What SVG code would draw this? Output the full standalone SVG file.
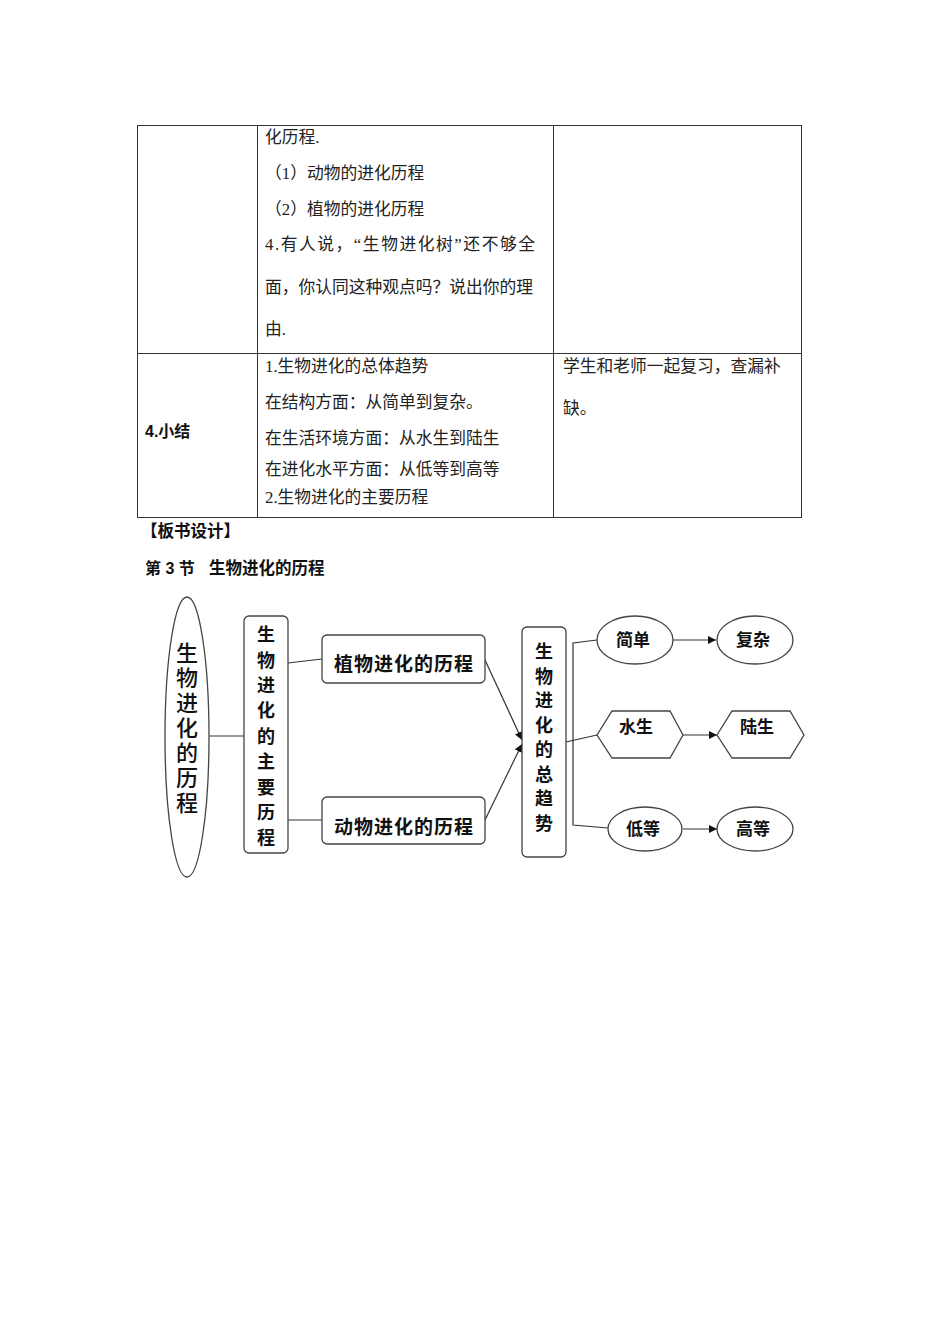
<svg xmlns="http://www.w3.org/2000/svg" width="950" height="1344" viewBox="0 0 950 1344">
<style>
.t{font-family:"Liberation Serif","Noto Sans CJK SC",serif;font-size:16.75px;fill:#222}
.b{font-family:"Liberation Sans","Noto Sans CJK SC",sans-serif;font-weight:bold;fill:#111}
.grid{stroke:#333;stroke-width:1;fill:none}
.n{fill:#fff;stroke:#444;stroke-width:1.3}
.nt{font-family:"Noto Sans CJK SC",sans-serif;font-weight:bold;fill:#111;text-anchor:middle}
.rt{font-family:"Noto Sans CJK SC",sans-serif;font-weight:500;font-size:22px;letter-spacing:3px;fill:#111;text-anchor:middle;writing-mode:vertical-rl}
.c{stroke:#333;stroke-width:1.2;fill:none}
</style>
<defs>
<marker id="ah" viewBox="0 0 10 10" refX="10" refY="5" markerWidth="8" markerHeight="8" orient="auto" markerUnits="userSpaceOnUse">
<path d="M0,0 L10,5 L0,10 Z" fill="#111"/>
</marker>
</defs>
<rect width="950" height="1344" fill="#fff"/>

<g id="table">
<rect class="grid" x="137.5" y="125.5" width="664" height="392"/>
<line class="grid" x1="257.5" y1="125" x2="257.5" y2="518"/>
<line class="grid" x1="553.5" y1="125" x2="553.5" y2="518"/>
<line class="grid" x1="137" y1="353.5" x2="802" y2="353.5"/>
<text class="t" x="265" y="143">化历程.</text>
<text class="t" x="265" y="179">（1）动物的进化历程</text>
<text class="t" x="265" y="215">（2）植物的进化历程</text>
<text class="t" x="265" y="250" textLength="270" lengthAdjust="spacing">4.有人说，“生物进化树”还不够全</text>
<text class="t" x="265" y="293">面，你认同这种观点吗？说出你的理</text>
<text class="t" x="265" y="335">由.</text>
<text class="t" x="265" y="372">1.生物进化的总体趋势</text>
<text class="t" x="265" y="408">在结构方面：从简单到复杂。</text>
<text class="t" x="265" y="444">在生活环境方面：从水生到陆生</text>
<text class="t" x="265" y="475">在进化水平方面：从低等到高等</text>
<text class="t" x="265" y="503">2.生物进化的主要历程</text>
<text class="b" x="145" y="437" font-size="16">4.小结</text>
<text class="t" x="563" y="372">学生和老师一起复习，查漏补</text>
<text class="t" x="563" y="414">缺。</text>
</g>

<g id="headings">
<text class="b" x="141" y="537" font-size="16.5">【板书设计】</text>
<text class="b" x="145" y="574" font-size="16">第 3 节</text>
<text class="b" x="209" y="574" font-size="16.5">生物进化的历程</text>
</g>

<g id="connectors">
<line class="c" x1="209" y1="736" x2="245" y2="736"/>
<line class="c" x1="288" y1="663" x2="322" y2="659"/>
<line class="c" x1="288" y1="820" x2="322" y2="820"/>
<line class="c" x1="485" y1="660" x2="522" y2="740" marker-end="url(#ah)"/>
<line class="c" x1="485" y1="820" x2="522" y2="744" marker-end="url(#ah)"/>
<line class="c" x1="566" y1="742" x2="597" y2="735"/>
<polyline class="c" points="597,640 573,643 573,825 608,828"/>
<line class="c" x1="673" y1="640" x2="716" y2="640" marker-end="url(#ah)"/>
<line class="c" x1="683" y1="735" x2="717" y2="735" marker-end="url(#ah)"/>
<line class="c" x1="683" y1="829" x2="717" y2="829" marker-end="url(#ah)"/>
</g>

<g id="n-root">
<ellipse class="n" cx="187" cy="737" rx="22" ry="140"/>
<text class="rt" x="187" y="729">生物进化的历程</text>
</g>

<g id="n-main">
<rect class="n" x="244" y="616" width="44" height="237" rx="5"/>
<g class="nt" font-size="18">
<text x="266" y="641">生</text>
<text x="266" y="667">物</text>
<text x="266" y="692">进</text>
<text x="266" y="717">化</text>
<text x="266" y="743">的</text>
<text x="266" y="768">主</text>
<text x="266" y="794">要</text>
<text x="266" y="819">历</text>
<text x="266" y="844">程</text>
</g>
</g>

<g id="n-plant">
<rect class="n" x="322" y="635" width="163" height="48" rx="5"/>
<text class="nt" font-size="19" letter-spacing="1" x="404" y="671">植物进化的历程</text>
</g>

<g id="n-animal">
<rect class="n" x="322" y="797" width="163" height="47" rx="5"/>
<text class="nt" font-size="19" letter-spacing="1" x="404" y="834">动物进化的历程</text>
</g>

<g id="n-trend">
<rect class="n" x="522" y="627" width="44" height="230" rx="5"/>
<g class="nt" font-size="18">
<text x="544" y="658">生</text>
<text x="544" y="683">物</text>
<text x="544" y="707">进</text>
<text x="544" y="732">化</text>
<text x="544" y="756">的</text>
<text x="544" y="781">总</text>
<text x="544" y="805">趋</text>
<text x="544" y="830">势</text>
</g>
</g>

<g id="n-simple">
<ellipse class="n" cx="635" cy="640" rx="38" ry="24"/>
<text class="nt" font-size="17" x="633" y="646">简单</text>
</g>
<g id="n-complex">
<ellipse class="n" cx="755" cy="640" rx="38" ry="24"/>
<text class="nt" font-size="17" x="753" y="646">复杂</text>
</g>
<g id="n-water">
<polygon class="n" points="597,735 612,711 670,711 683,735 670,758 612,758"/>
<text class="nt" font-size="17" x="636" y="733">水生</text>
</g>
<g id="n-land">
<polygon class="n" points="717,735 732,711 790,711 804,735 790,758 732,758"/>
<text class="nt" font-size="17" x="757" y="733">陆生</text>
</g>
<g id="n-low">
<ellipse class="n" cx="645" cy="829" rx="37" ry="22"/>
<text class="nt" font-size="17" x="643" y="835">低等</text>
</g>
<g id="n-high">
<ellipse class="n" cx="755" cy="829" rx="38" ry="22"/>
<text class="nt" font-size="17" x="753" y="835">高等</text>
</g>
</svg>
